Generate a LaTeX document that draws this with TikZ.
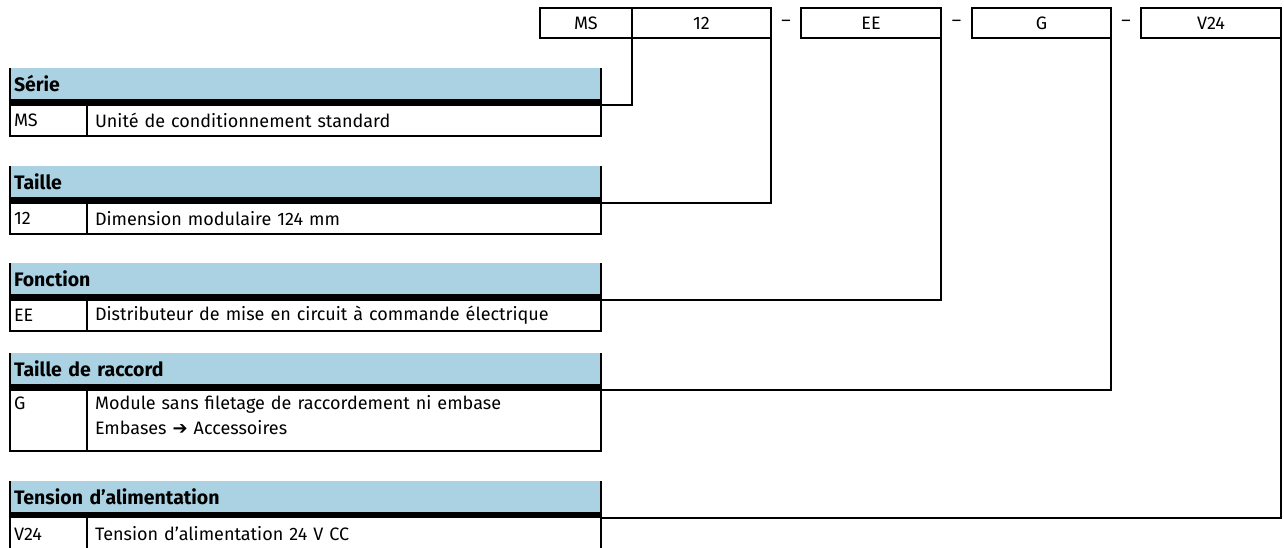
\documentclass[tikz,border=0pt]{standalone}
\usepackage{fontspec}
\setmainfont{Fira Sans}
\newfontfamily\symfont{DejaVu Sans}
\usepackage{tikz}
\usetikzlibrary{calc}

\definecolor{hdblue}{RGB}{170,210,226}

\begin{document}
\begin{tikzpicture}[x=0.5pt,y=-0.5pt,line width=1pt,outer sep=0pt,
  font=\fontsize{9pt}{12.75pt}\selectfont,
  codebox/.style={draw,minimum width=69.75pt,minimum height=15pt,inner sep=0pt},
  hdr/.style={fill=hdblue,anchor=north west,minimum height=15.5pt,text width=291.5pt,
    inner xsep=2pt,inner ysep=0pt,align=left,font=\fontsize{9.75pt}{12.75pt}\selectfont\bfseries},
  blackbar/.style={fill=black,anchor=north west,minimum width=295.5pt,minimum height=3pt,inner sep=0pt},
  keycell/.style={draw,anchor=north west,minimum height=15.5pt,text width=34.5pt,
    inner xsep=2pt,inner ysep=0pt,align=left},
  desccell/.style={draw,anchor=north west,minimum height=15.5pt,text width=249pt,
    inner xsep=4pt,inner ysep=0pt,align=left},
  tworow/.style={minimum height=0pt,text height=9.5pt,text depth=21pt}]
  \useasboundingbox (0,0) rectangle (1284,547);
  % order code boxes
  \node[codebox,minimum width=46pt] (ms) at (586,23) {MS};
  \node[codebox] (v12) at (701.5,23) {12};
  \node (d1) at (786,23) {--};
  \node[codebox] (ee) at (871,23) {EE};
  \node (d2) at (956.5,23) {--};
  \node[codebox] (g) at (1041.5,23) {G};
  \node (d3) at (1126,23) {--};
  \node[codebox] (v24) at (1211,23) {V24};
  % Serie
  \node[hdr] (hd1) at (10,68) {Série};
  \node[blackbar] (bar1) at (10,99) {};
  \node[keycell] (key1) at (10,105) {MS};
  \node[desccell] (desc1) at (87,105) {Unité de conditionnement standard};
  \draw (hd1.north west) -- (key1.north west);
  \draw (hd1.north east) -- (desc1.north east);
  \draw (bar1.south east) -| (ms.south east);
  % Taille
  \node[hdr] (hd2) at (10,166) {Taille};
  \node[blackbar] (bar2) at (10,197) {};
  \node[keycell] (key2) at (10,203) {12};
  \node[desccell] (desc2) at (87,203) {Dimension modulaire 124 mm};
  \draw (hd2.north west) -- (key2.north west);
  \draw (hd2.north east) -- (desc2.north east);
  \draw (bar2.south east) -| (v12.south east);
  % Fonction
  \node[hdr] (hd3) at (10,263) {Fonction};
  \node[blackbar] (bar3) at (10,294) {};
  \node[keycell] (key3) at (10,300) {EE};
  \node[desccell] (desc3) at (87,300) {Distributeur de mise en circuit à commande électrique};
  \draw (hd3.north west) -- (key3.north west);
  \draw (hd3.north east) -- (desc3.north east);
  \draw (bar3.south east) -| (ee.south east);
  % Taille de raccord
  \node[hdr] (hd4) at (10,353) {Taille de raccord};
  \node[blackbar] (bar4) at (10,384) {};
  \node[keycell,tworow] (key4) at (10,390) {G};
  \node[desccell,tworow] (desc4) at (87,390)
    {Module sans filetage de raccordement ni embase\\
     Embases {\symfont\fontsize{9pt}{12.75pt}\selectfont ➔} Accessoires};
  \draw (hd4.north west) -- (key4.north west);
  \draw (hd4.north east) -- (desc4.north east);
  \draw (bar4.south east) -| (g.south east);
  % Tension d'alimentation
  \node[hdr] (hd5) at (10,481) {Tension d’alimentation};
  \node[blackbar] (bar5) at (10,512) {};
  \node[keycell,minimum height=17pt] (key5) at (10,517) {V24};
  \node[desccell,minimum height=17pt] (desc5) at (87,517) {Tension d’alimentation 24 V CC};
  \draw (hd5.north west) -- (key5.north west);
  \draw (hd5.north east) -- (desc5.north east);
  \draw (bar5.south east) -| (v24.south east);
\end{tikzpicture}
\end{document}
